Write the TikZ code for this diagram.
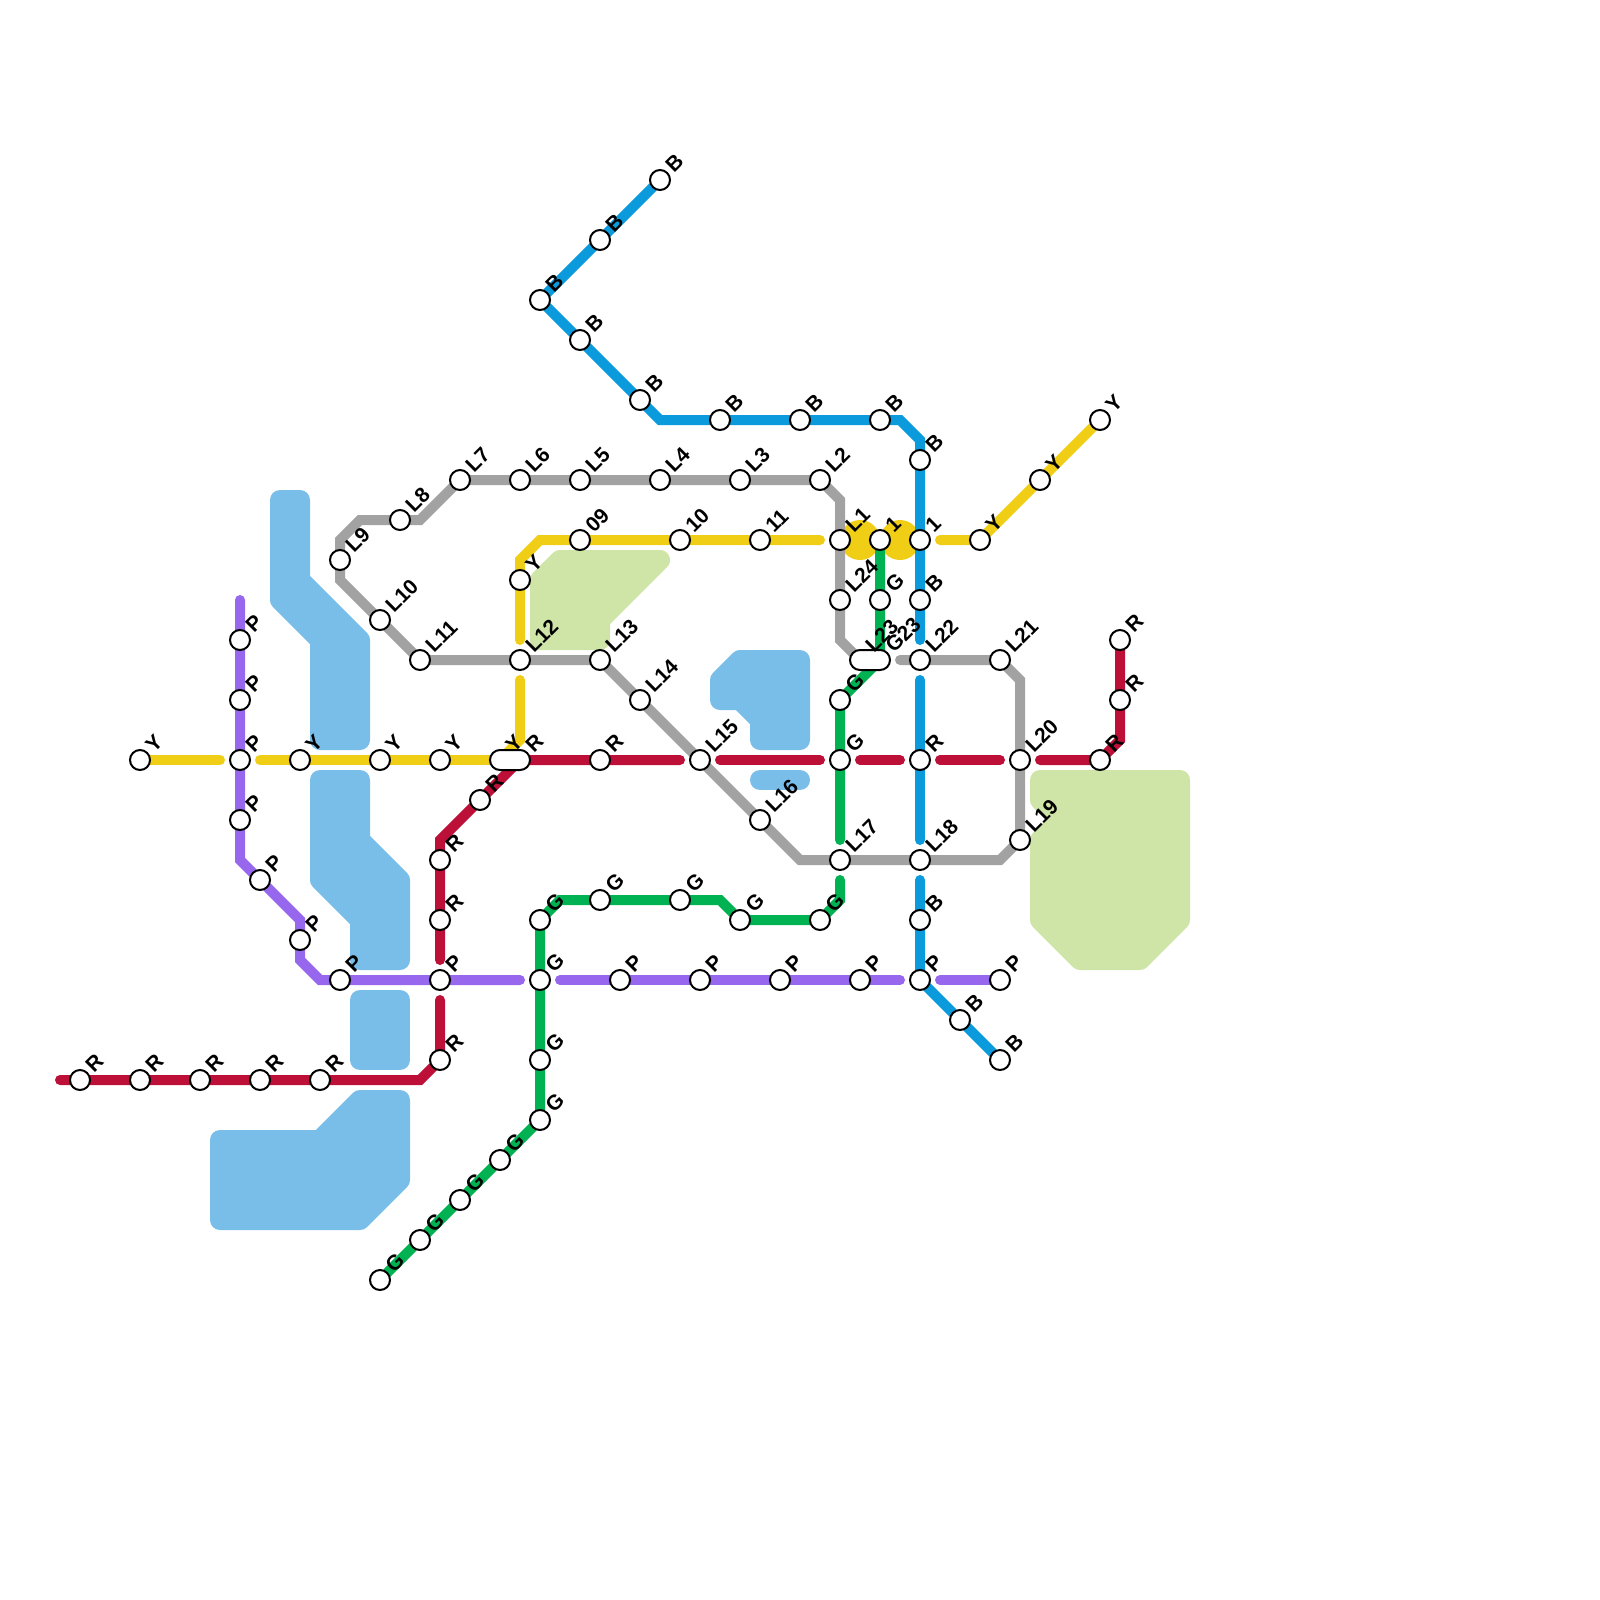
\documentclass[tikz,border=0pt]{standalone}
\usepackage{fontspec}
\setmainfont{Liberation Sans}
\usepackage{xcolor}
\usetikzlibrary{backgrounds,shapes.misc}
\definecolor{linered}{HTML}{BD1038}
\definecolor{linepurple}{HTML}{9768EE}
\definecolor{lineyellow}{HTML}{F0CE15}
\definecolor{lineblue}{HTML}{0B9BDC}
\definecolor{linegreen}{HTML}{00B251}
\definecolor{linegrey}{HTML}{A2A2A2}
\definecolor{water}{HTML}{79BDE9}
\definecolor{park}{HTML}{CFE4A7}
\tikzset{
  stn/.style={draw=black, circle, fill=white, line width=2pt, minimum size=20pt, inner sep=0pt, outer sep=0pt},
  xchg/.style={draw=black, rounded rectangle, fill=white, line width=2pt, minimum width=40pt, minimum height=20pt, inner sep=0pt, outer sep=0pt},
  tag/.style={anchor=base west, rotate=45, inner sep=0pt, font=\fontsize{21}{21}\selectfont\bfseries},
  route/.style={line width=10pt, line cap=round},
  area/.style={line width=20pt, line join=round, draw=#1, fill=#1}
}

\begin{document}
\begin{tikzpicture}[x=1pt, y=-1pt]
\useasboundingbox (0,0) rectangle (1600,1600);
\foreach \nm/\x/\y/\txt in {
  r1/80/1080/R, r2/140/1080/R, r3/200/1080/R, r4/260/1080/R, r5/320/1080/R, r6/440/1060/R,
  r7/440/920/R, r8/440/860/R, r9/480/800/R, r10/600/760/R, r11/1100/760/R, r12/1120/700/R, r13/1120/640/R,
  p1/240/640/P, p2/240/700/P, p3/240/760/P, p4/240/820/P, p5/260/880/P, p6/300/940/P, p7/340/980/P,
  p8/440/980/P, p9/620/980/P, p10/700/980/P, p11/780/980/P, p12/860/980/P, p13/920/980/P, p14/1000/980/P,
  y1/140/760/Y, y2/300/760/Y, y3/380/760/Y, y4/440/760/Y, y5/520/580/Y, y6/580/540/09, y7/680/540/10,
  y8/760/540/11, y9/880/540/1, y10/920/540/1, y11/980/540/Y, y12/1040/480/Y, y13/1100/420/Y,
  b1/660/180/B, b2/600/240/B, b3/540/300/B, b4/580/340/B, b5/640/400/B, b6/720/420/B, b7/800/420/B,
  b8/880/420/B, b9/920/460/B, b10/920/600/B, b11/920/760/R, b12/920/920/B, b13/960/1020/B, b14/1000/1060/B,
  g1/380/1280/G, g2/420/1240/G, g3/460/1200/G, g4/500/1160/G, g5/540/1120/G, g6/540/1060/G, g7/540/980/G,
  g8/540/920/G, g9/600/900/G, g10/680/900/G, g11/740/920/G, g12/820/920/G, g13/840/760/G, g14/840/700/G, g15/880/600/G,
  l1/840/540/L1, l2/820/480/L2, l3/740/480/L3, l4/660/480/L4, l5/580/480/L5, l6/520/480/L6, l7/460/480/L7,
  l8/400/520/L8, l9/340/560/L9, l10/380/620/L10, l11/420/660/L11, l12/520/660/L12, l13/600/660/L13,
  l14/640/700/L14, l15/700/760/L15, l16/760/820/L16, l17/840/860/L17, l18/920/860/L18, l19/1020/840/L19,
  l20/1020/760/L20, l21/1000/660/L21, l22/920/660/L22, l24/840/600/L24}
  {\node[stn] (\nm) at (\x,\y) {};
   \node[tag] (\nm t) at (\x+14,\y-6) {\txt};}
\node[xchg] (xr) at (510,760) {};
\node[tag] (xr y) at (514,754) {Y};
\node[tag] (xr r) at (534,754) {R};
\node[xchg] (xg) at (870,660) {};
\node[tag] (xg l) at (874,654) {L23};
\node[tag] (xg g) at (894,654) {G23};
\foreach \nm/\x/\y in {
  ra/60/1080, rb/420/1080, rc/440/1000, rd/440/960, re/440/840, rf/520/760, rg/680/760, rh/720/760,
  ri/820/760, rj/860/760, rk/900/760, rl/940/760, rm/1000/760, rn/1040/760, ro/1120/740,
  pa/240/600, pb/240/860, pc/300/920, pd/300/960, pe/320/980, pf/520/980, pg/560/980, ph/900/980, pi/940/980,
  ya/220/760, yb/260/760, yc/500/760, yd/520/680, ye/520/740, yf/520/640, yg/520/560, yh/540/540, yi/820/540, yj/940/540,
  ba/660/420, bb/900/420, bc/920/440, bd/920/640, be/920/680, bf/920/840, bg/920/880,
  ga/560/900, gb/720/900, gc/840/900, gd/840/880, ge/840/840, gf/880/660,
  la/860/660, lb/840/640, lc/840/500, ld/420/520, le/360/520, lf/340/540, lg/340/580,
  lh/800/860, li/1000/860, lj/1020/680, lk/900/660}
  {\coordinate (\nm) at (\x,\y);}
\begin{scope}[on background layer]
\draw[area=water] (280,500) -- (300,500) -- (300,580) -- (360,640) -- (360,740) -- (320,740) -- (320,640) -- (280,600) -- cycle;
\draw[area=water] (320,780) -- (360,780) -- (360,840) -- (400,880) -- (400,960) -- (360,960) -- (360,920) -- (320,880) -- cycle;
\draw[area=water] (360,1000) -- (400,1000) -- (400,1060) -- (360,1060) -- cycle;
\draw[area=water] (220,1140) -- (320,1140) -- (360,1100) -- (400,1100) -- (400,1180) -- (360,1220) -- (220,1220) -- cycle;
\draw[area=water] (720,680) -- (740,660) -- (800,660) -- (800,740) -- (760,740) -- (760,720) -- (740,700) -- (720,700) -- cycle;
\draw[area=water] (760,780) -- (800,780) -- cycle;
\draw[area=park] (540,640) -- (540,580) -- (560,560) -- (660,560) -- (600,620) -- (600,640) -- cycle;
\draw[area=park] (1040,780) -- (1180,780) -- (1180,920) -- (1140,960) -- (1080,960) -- (1040,920) -- (1040,840) -- (1060,820) -- (1040,800) -- cycle;
\fill[lineyellow] (860,540) circle (20) (900,540) circle (20);
\draw[route, linegrey] (la) -- (lb) -- (l24) -- (l1) -- (lc) -- (l2) -- (l3) -- (l4) -- (l5) -- (l6) -- (l7) -- (ld) -- (l8) -- (le) -- (lf) -- (l9) -- (lg) -- (l10) -- (l11) -- (l12) -- (l13) -- (l14) -- (l15) -- (l16) -- (lh) -- (l17) -- (l18) -- (li) -- (l19) -- (l20) -- (lj) -- (l21) -- (l22) -- (lk);
\draw[route, lineyellow] (y1) -- (ya);
\draw[route, lineyellow] (yb) -- (y2) -- (y3) -- (y4) -- (yc);
\draw[route, lineyellow] (yd) -- (ye) -- (yc);
\draw[route, lineyellow] (yf) -- (y5) -- (yg) -- (yh) -- (y6) -- (y7) -- (y8) -- (yi);
\draw[route, lineyellow] (yj) -- (y11) -- (y12) -- (y13);
\draw[route, linepurple] (pa) -- (p1) -- (p2) -- (p3) -- (p4) -- (pb) -- (p5) -- (pc) -- (p6) -- (pd) -- (pe) -- (p7) -- (p8) -- (pf);
\draw[route, linepurple] (pg) -- (p9) -- (p10) -- (p11) -- (p12) -- (ph);
\draw[route, linepurple] (pi) -- (p14);
\draw[route, lineblue] (b1) -- (b2) -- (b3) -- (b4) -- (b5) -- (ba) -- (b6) -- (b7) -- (b8) -- (bb) -- (bc) -- (b9) -- (y10) -- (b10) -- (bd);
\draw[route, lineblue] (be) -- (b11) -- (bf);
\draw[route, lineblue] (bg) -- (b12) -- (p13) -- (b13) -- (b14);
\draw[route, linegreen] (g1) -- (g2) -- (g3) -- (g4) -- (g5) -- (g6) -- (g7) -- (g8) -- (ga) -- (g9) -- (g10) -- (gb) -- (g11) -- (g12) -- (gc) -- (gd);
\draw[route, linegreen] (ge) -- (g13) -- (g14) -- (gf) -- (g15) -- (y9);
\draw[route, linered] (ra) -- (r1) -- (r2) -- (r3) -- (r4) -- (r5) -- (rb) -- (r6) -- (rc);
\draw[route, linered] (rd) -- (r7) -- (r8) -- (re) -- (r9) -- (rf) -- (r10) -- (rg);
\draw[route, linered] (rh) -- (ri);
\draw[route, linered] (rj) -- (rk);
\draw[route, linered] (rl) -- (rm);
\draw[route, linered] (rn) -- (r11) -- (ro) -- (r12) -- (r13);
\end{scope}
\end{tikzpicture}
\end{document}
